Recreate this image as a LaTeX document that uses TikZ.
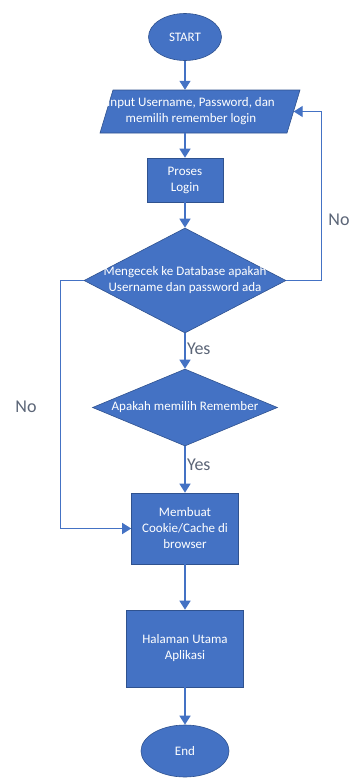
\documentclass[tikz,border=0pt]{standalone}
\usepackage{fontspec}
\setmainfont{Carlito}
\usepackage{tikz}
\usetikzlibrary{arrows.meta, calc, positioning, shapes.geometric}
\definecolor{boxblue}{HTML}{4472C4}
\definecolor{edgeblue}{HTML}{2F528F}
\definecolor{lblgray}{HTML}{5B6577}

\begin{document}
\begin{tikzpicture}[x=1pt, y=-1pt,
  every node/.style={font=\fontsize{13}{16}\selectfont, text=white, align=center},
  term/.style={ellipse, fill=boxblue, draw=edgeblue, line width=0.6pt, inner sep=0pt},
  io/.style={fill=boxblue, draw=edgeblue, line width=0.6pt},
  proc/.style={rectangle, fill=boxblue, draw=edgeblue, line width=0.6pt, inner sep=0pt},
  decision/.style={diamond, fill=boxblue, draw=edgeblue, line width=0.6pt, inner sep=0pt},
  flow/.style={draw=boxblue, line width=1.4pt, -{Triangle[width=11pt,length=9pt]}},
  lbl/.style={text=lblgray, font=\fontsize{18}{20}\selectfont}]
\useasboundingbox (0,0) rectangle (354,779);
% shapes
\node[term, minimum width=73pt, minimum height=47pt] (start) at (185,37) {START};
\draw[io] (100,133) -- (113,90) -- (300,90) -- (287,133) -- cycle;
\node[inner sep=0pt, minimum width=187pt, minimum height=43pt] (in) at (200,111.5) {};
\node (in-t) at (191,111.5) {Input Username, Password, dan\\memilih remember login};
\node[proc, minimum width=76pt, minimum height=44pt] (login) at (185,180) {Proses\\Login};
\node[decision, minimum width=202pt, minimum height=105pt] (chk) at (185,280.5) {};
\node (chk-t) at (185,280.5) {Mengecek ke Database apakah\\Username dan password ada};
\node[decision, minimum width=185pt, minimum height=77pt] (rem) at (185,407.5) {};
\node (rem-t) at (185,407.5) {Apakah memilih Remember};
\node[proc, minimum width=107pt, minimum height=71pt] (cookie) at (185,528.5) {Membuat\\Cookie/Cache di\\browser};
\node[proc, minimum width=117pt, minimum height=77pt] (home) at (185,648.5) {Halaman Utama\\Aplikasi};
\node[term, minimum width=88pt, minimum height=52pt] (end) at (185,751) {End};
% connectors
\draw[flow] (start) -- (start |- in.north);
\draw[flow] (login |- in.south) -- (login);
\draw[flow] (login) -- (chk);
\draw[flow] (chk) -- (rem) node[lbl, pos=0.45, right=-2pt] (yes1) {Yes};
\draw[flow] (rem) -- (cookie) node[lbl, pos=0.4, right=-2pt] (yes2) {Yes};
\draw[flow] (cookie) -- (home);
\draw[flow] (home) -- (end);
\coordinate (rt) at ($(chk.east)+(35,0)$);
\coordinate (lt) at ($(chk.west)+(-23,0)$);
\draw[flow] (chk.east) -- (rt) |- (in);
\draw[flow] (chk.west) -- (lt) |- (cookie);
\node[lbl] (no1) at (339,220) {No};
\node[lbl] (no2) at (26,407) {No};
\end{tikzpicture}
\end{document}
